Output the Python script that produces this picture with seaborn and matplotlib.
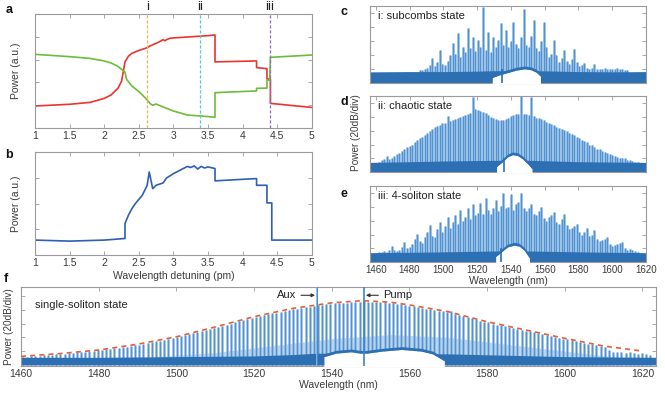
import numpy as np
import matplotlib
matplotlib.use('Agg')
import matplotlib.pyplot as plt
import seaborn as sns

sns.set_style('ticks')
plt.rcParams['font.family'] = ['Liberation Sans', 'DejaVu Sans']

# ---- a: transmitted power of the two modes vs detuning (pm)
a_red_x = [1.0, 1.5, 1.8, 2.0, 2.1, 2.2, 2.25, 2.28, 2.3, 2.35, 2.4, 2.5, 2.6, 2.7, 2.8, 2.85, 2.88,
           2.9, 2.95, 3.0, 3.5, 3.6, 3.6, 4.2, 4.2, 4.35, 4.35, 4.4, 4.4, 5.0]
a_red_y = [0.193, 0.208, 0.225, 0.26, 0.29, 0.35, 0.41, 0.51, 0.58, 0.63, 0.655, 0.68, 0.70, 0.73,
           0.757, 0.775, 0.765, 0.775, 0.787, 0.79, 0.81, 0.816, 0.58, 0.588, 0.53, 0.52, 0.43, 0.43,
           0.216, 0.18]
a_green_x = [1.0, 1.5, 1.8, 2.0, 2.1, 2.2, 2.3, 2.32, 2.4, 2.5, 2.6, 2.67, 2.7, 2.75, 2.85, 3.0, 3.2,
             3.5, 3.6, 3.6, 4.2, 4.2, 4.35, 4.35, 4.39, 4.4, 5.0]
a_green_y = [0.646, 0.626, 0.61, 0.588, 0.57, 0.54, 0.49, 0.43, 0.368, 0.32, 0.26, 0.21, 0.20, 0.21,
             0.185, 0.149, 0.114, 0.10, 0.094, 0.31, 0.325, 0.348, 0.35, 0.42, 0.42, 0.62, 0.64]
state_pos = [2.62, 3.38, 4.39]
state_names = ['i', 'ii', 'iii']
state_colors = ['#f2b25c', '#5cc8b8', '#8a6cc4']

# ---- b: comb power vs detuning
b_x = [1.0, 1.5, 2.0, 2.2, 2.3, 2.3, 2.35, 2.4, 2.45, 2.55, 2.62, 2.65, 2.7, 2.75, 2.85, 2.9, 3.0,
       3.1, 3.2, 3.25, 3.3, 3.35, 3.4, 3.45, 3.5, 3.6, 3.6, 4.0, 4.2, 4.2, 4.35, 4.35, 4.42, 4.42, 5.0]
b_y = [0.145, 0.135, 0.145, 0.155, 0.161, 0.306, 0.387, 0.45, 0.50, 0.58, 0.677, 0.806, 0.645, 0.677,
       0.70, 0.748, 0.79, 0.825, 0.86, 0.85, 0.865, 0.835, 0.86, 0.845, 0.855, 0.84, 0.72, 0.735,
       0.742, 0.677, 0.677, 0.506, 0.506, 0.145, 0.145]
detune_ticks = [1, 1.5, 2, 2.5, 3, 3.5, 4, 4.5, 5]
detune_labels = ['1', '1.5', '2', '2.5', '3', '3.5', '4', '4.5', '5']

# ---- c, d, e spectra (power in 20 dB divisions), comb line heights on a grid
wl_ticks = [1460, 1480, 1500, 1520, 1540, 1560, 1580, 1600, 1620]

c_start, c_step = 1486.0, 1.5
c_heights = [0.9, 0.9, 1.0, 1.1, 1.3, 1.76, 1.2, 1.5, 2.36, 1.4, 1.3, 1.6, 2.0, 2.84, 2.1, 3.56, 1.9,
             2.6, 2.2, 3.92, 2.5, 3.27, 2.3, 3.08, 2.6, 5.48, 2.4, 3.68, 2.2, 3.32, 2.6, 3.08, 4.28,
             2.7, 3.8, 2.6, 3.0, 4.4, 2.8, 2.5, 3.3, 5.31, 2.7, 2.6, 3.4, 4.52, 2.5, 2.3, 3.0, 4.4,
             2.6, 1.9, 2.1, 3.08, 2.0, 1.5, 1.8, 2.36, 1.6, 1.4, 1.7, 2.41, 1.5, 1.2, 1.3, 1.44, 1.1,
             1.0, 1.1, 1.35, 1.0, 1.0, 1.0, 1.05, 1.0, 1.0, 1.0, 1.0, 1.1, 1.0, 1.0, 0.95, 0.95]
c_floor_x = [1456.6, 1480, 1500, 1520, 1529, 1557, 1580, 1600, 1620]
c_floor_y = [0.8, 0.82, 0.82, 0.85, 0.88, 0.88, 0.82, 0.8, 0.82]
c_hump_x = [1529, 1533, 1538, 1543, 1548, 1552, 1555, 1557.5]
c_hump_y = [0.5, 0.68, 0.85, 1.02, 1.12, 1.05, 0.88, 0.6]
c_spike = 1534.6

d_start, d_step = 1462.0, 1.5
d_heights = [0.75, 0.85, 0.95, 1.15, 0.95, 1.05, 1.2, 1.3, 1.4, 1.5, 1.65, 1.8, 1.9, 2.0, 2.15, 2.3,
             2.5, 2.55, 2.7, 2.85, 3.0, 3.15, 3.25, 3.35, 3.45, 3.55, 3.6, 4.05, 3.7, 3.8, 3.85, 3.95,
             4.0, 4.05, 4.15, 4.2, 4.3, 5.48, 4.55, 4.5, 4.45, 4.4, 4.3, 4.15, 4.0, 3.9, 3.85, 3.8,
             3.75, 3.8, 3.85, 3.95, 4.1, 4.15, 4.2, 4.25, 5.5, 4.25, 4.2, 4.15, 5.45, 4.05, 3.95, 3.9,
             3.85, 3.75, 3.65, 3.55, 3.5, 3.4, 3.3, 3.2, 3.1, 3.05, 2.95, 2.85, 2.75, 2.7, 2.55, 2.45,
             2.35, 2.25, 2.15, 2.0, 1.95, 1.85, 1.7, 1.65, 1.55, 1.45, 1.4, 1.3, 1.25, 1.15, 1.1, 1.05,
             1.0, 1.0, 0.9, 0.85, 0.8, 0.75, 0.7]
d_floor_x = [1456.6, 1480, 1500, 1530, 1552, 1580, 1620]
d_floor_y = [0.7, 0.75, 0.8, 0.85, 0.85, 0.75, 0.7]
d_hump_x = [1531.5, 1535, 1538, 1541, 1544, 1547, 1550, 1552.5]
d_hump_y = [0.5, 0.85, 1.2, 1.36, 1.3, 1.05, 0.7, 0.35]
d_spike = 1535.9

e_start, e_step = 1462.0, 1.5
e_heights = [0.7, 0.75, 0.8, 0.75, 0.9, 1.14, 0.85, 0.8, 0.9, 1.1, 1.45, 1.0, 1.1, 1.3, 1.7, 2.05,
             1.5, 1.4, 1.8, 2.2, 2.66, 1.9, 1.8, 2.4, 2.9, 2.2, 2.6, 3.26, 2.5, 2.9, 3.4, 2.8, 3.75,
             3.0, 3.3, 3.9, 3.1, 4.23, 3.4, 3.6, 4.3, 3.5, 4.67, 3.8, 3.5, 3.9, 4.5, 3.7, 4.1, 5.03,
             3.9, 4.0, 4.96, 3.8, 4.2, 4.4, 5.0, 3.9, 3.7, 3.9, 4.23, 3.5, 3.4, 3.7, 4.0, 3.2, 3.0,
             3.3, 3.45, 3.62, 2.9, 2.8, 3.1, 3.5, 2.7, 2.4, 2.5, 2.6, 2.78, 2.2, 2.0, 2.2, 2.5, 1.9,
             2.0, 2.3, 1.7, 1.5, 1.6, 1.7, 1.81, 1.3, 1.2, 1.25, 1.3, 1.35, 1.45, 1.0, 0.9, 0.95, 0.9,
             0.8, 0.75]
e_floor_x = [1456.6, 1490, 1530, 1551, 1590, 1620]
e_floor_y = [0.68, 0.72, 0.8, 0.8, 0.72, 0.68]
e_hump_x = [1531, 1535, 1538, 1542, 1545, 1548, 1551]
e_hump_y = [0.5, 0.9, 1.2, 1.33, 1.25, 0.95, 0.4]
e_spike = 1534.0

# ---- f: single soliton spectrum
f_start, f_step = 1460.5, 1.07
f_heights = [0.58, 0.6, 0.62, 0.66, 0.68, 0.7, 0.72, 0.74, 0.78, 0.8,
             0.82, 0.85, 0.88, 0.9, 0.93, 0.96, 0.99, 1.02, 1.05, 1.08,
             1.12, 1.16, 1.2, 1.24, 1.29, 1.33, 1.38, 1.42, 1.47, 1.53,
             1.59, 1.65, 1.71, 1.76, 1.82, 1.88, 1.94, 2.0, 2.08, 2.16,
             2.23, 2.31, 2.38, 2.45, 2.53, 2.6, 2.68, 2.76, 2.84, 2.92,
             3.0, 3.08, 3.16, 3.24, 3.32, 3.4, 3.48, 3.54, 3.6, 3.67,
             3.73, 3.8, 3.86, 3.92, 3.99, 4.05, 4.09, 4.14, 4.18, 4.22,
             4.27, 4.31, 4.35, 4.39, 4.44, 4.46, 4.48, 4.5, 4.52, 4.54,
             4.56, 4.58, 4.6, 4.59, 4.58, 4.56, 4.55, 4.53, 4.51, 4.47,
             4.43, 4.39, 4.34, 4.3, 4.25, 4.19, 4.14, 4.09, 4.03, 3.98,
             3.93, 3.88, 3.83, 3.9, 3.72, 3.62, 3.55, 3.46, 3.38, 3.3,
             3.22, 3.14, 3.1, 3.0, 2.93, 2.87, 2.8, 2.74, 2.7, 2.62,
             2.56, 2.49, 2.43, 2.36, 2.3, 2.23, 2.17, 2.11, 2.04, 1.98,
             1.91, 1.85, 1.79, 1.73, 1.67, 1.61, 1.55, 1.5, 1.43, 1.38,
             1.3, 1.1, 0.95, 0.9, 0.95, 0.85, 0.9, 0.85, 0.8, 0.85,
             0.8, 0.75]
f_env_x = [1460, 1470, 1480, 1490, 1500, 1510, 1520, 1530, 1540, 1548, 1555, 1560, 1570, 1580,
           1590, 1600, 1610, 1620]
f_env_y = [0.62, 0.82, 1.08, 1.5, 2.04, 2.75, 3.5, 4.1, 4.5, 4.66, 4.55, 4.35, 3.86, 3.13, 2.53,
           1.93, 1.37, 1.0]
f_floor_x = [1460, 1480, 1500, 1520, 1530, 1536, 1570, 1585, 1600, 1623.5]
f_floor_y = [0.55, 0.55, 0.6, 0.65, 0.75, 0.85, 0.8, 0.7, 0.6, 0.55]
f_haze_x = [1495, 1510, 1525, 1540, 1555, 1570, 1585, 1600, 1612]
f_haze_y = [0.6, 0.9, 1.4, 1.9, 2.2, 2.0, 1.5, 1.0, 0.6]
f_hump_x = [1538, 1541, 1545, 1547.3, 1549, 1553, 1558, 1563, 1566, 1569]
f_hump_y = [0.7, 0.95, 1.05, 0.95, 0.95, 1.1, 1.22, 1.1, 0.9, 0.4]
aux_nm, pump_nm = 1536.3, 1548.2

DARK = '#2c6fb3'
LIGHT = '#86b5e2'
MID = '#3f84c8'
SPINE = '#9a9a9a'
TXT = '#3a3a3a'

fig = plt.figure(figsize=(6.65, 3.93), dpi=100)


def style_axes(ax, size=7):
    for s in ax.spines.values():
        s.set_color(SPINE)
        s.set_linewidth(0.8)
    ax.tick_params(direction='in', length=3, width=0.6, color=SPINE, labelcolor=TXT,
                   labelsize=size, pad=2, top=True, right=True)


def spectrum(ax, start, step, heights, floor_x, floor_y, hump_x, hump_y, spike, lw=1.9):
    pos = start + step * np.arange(len(heights))
    ax.vlines(pos, 0, heights, colors=LIGHT, lw=lw, zorder=1)
    ax.vlines(pos, 0, heights, colors=MID, lw=0.5, zorder=1.5)
    ax.fill_between(floor_x, 0, floor_y, color=DARK, lw=0, zorder=2)
    hy = np.array(hump_y)
    ax.fill_between(hump_x, -1, hy - 0.1, color='white', lw=0, zorder=3)
    ax.fill_between(hump_x, hy - 0.1, hy + 0.1, color=DARK, lw=0, zorder=4)
    if spike is not None:
        ax.vlines([spike], 0, 1.0, colors=DARK, lw=1.2, zorder=4)


# panel a
ax_a = fig.add_axes([0.0526, 0.6743, 0.4165, 0.2901])
sns.lineplot(x=a_red_x, y=a_red_y, ax=ax_a, color='#e8352f', lw=1.2, sort=False, estimator=None)
sns.lineplot(x=a_green_x, y=a_green_y, ax=ax_a, color='#6cbd3a', lw=1.2, sort=False, estimator=None)
for p, n, c in zip(state_pos, state_names, state_colors):
    ax_a.axvline(p, color=c, lw=0.9, ls=(0, (2.5, 1.5)))
    ax_a.text(p, 1.01, n, transform=ax_a.get_xaxis_transform(), ha='center', va='bottom',
              fontsize=9.5, color='#222222')
ax_a.set_xlim(1, 5)
ax_a.set_ylim(0, 1)
ax_a.set_xticks(detune_ticks)
ax_a.set_xticklabels(detune_labels)
ax_a.set_yticks([0.2, 0.4, 0.6, 0.8])
ax_a.set_yticklabels([])
ax_a.set_ylabel('Power (a.u.)', fontsize=7.5, color=TXT, labelpad=8)
style_axes(ax_a, 7.5)

# panel b
ax_b = fig.add_axes([0.0526, 0.3511, 0.4165, 0.2621])
sns.lineplot(x=b_x, y=b_y, ax=ax_b, color='#2e5fb4', lw=1.2, sort=False, estimator=None)
ax_b.set_xlim(1, 5)
ax_b.set_ylim(0, 1)
ax_b.set_xticks(detune_ticks)
ax_b.set_xticklabels(detune_labels)
ax_b.set_yticks([0.25, 0.5, 0.75])
ax_b.set_yticklabels([])
ax_b.set_ylabel('Power (a.u.)', fontsize=7.5, color=TXT, labelpad=8)
ax_b.set_xlabel('Wavelength detuning (pm)', fontsize=7.5, color=TXT, labelpad=2)
style_axes(ax_b, 7.5)

# panels c, d, e
spec_rects = [[0.5564, 0.7888, 0.4150, 0.1959], [0.5564, 0.5623, 0.4150, 0.1934],
              [0.5564, 0.3333, 0.4150, 0.1934]]
spec_data = [
    (c_start, c_step, c_heights, c_floor_x, c_floor_y, c_hump_x, c_hump_y, c_spike, 'i: subcombs state'),
    (d_start, d_step, d_heights, d_floor_x, d_floor_y, d_hump_x, d_hump_y, d_spike, 'ii: chaotic state'),
    (e_start, e_step, e_heights, e_floor_x, e_floor_y, e_hump_x, e_hump_y, e_spike, 'iii: 4-soliton state'),
]
for k, (rect, dat) in enumerate(zip(spec_rects, spec_data)):
    ax = fig.add_axes(rect)
    spectrum(ax, *dat[:8])
    ax.text(0.028, 0.93, dat[8], transform=ax.transAxes, ha='left', va='top', fontsize=8,
            color='#222222', zorder=6)
    ax.set_xlim(1456.6, 1620)
    ax.set_ylim(0, 5.53)
    ax.set_xticks(wl_ticks)
    ax.set_yticks([1, 2, 3, 4, 5])
    ax.set_yticklabels([])
    if k < 2:
        ax.set_xticklabels([])
    else:
        ax.set_xlabel('Wavelength (nm)', fontsize=7.5, color=TXT, labelpad=1)
    style_axes(ax)

fig.text(0.535, 0.662, 'Power (20dB/div)', rotation=90, ha='center', va='center', fontsize=7.2,
         color=TXT)

# panel f
ax_f = fig.add_axes([0.0316, 0.0687, 0.9549, 0.2010])
ax_f.fill_between(f_haze_x, 0, f_haze_y, color='#bcd5ee', lw=0, zorder=0.5)
spectrum(ax_f, f_start, f_step, f_heights, f_floor_x, f_floor_y, f_hump_x, f_hump_y, None, lw=1.8)
ax_f.vlines([aux_nm], 0, 6, colors=LIGHT, lw=1.3, zorder=5)
ax_f.vlines([aux_nm], 0, 6, colors=MID, lw=0.6, zorder=5)
ax_f.vlines([pump_nm], -1, 6, colors=MID, lw=1.2, zorder=5)
sns.lineplot(x=f_env_x, y=f_env_y, ax=ax_f, color='#e2603a', lw=1.2, sort=False, estimator=None,
             zorder=6)
ax_f.lines[-1].set_dashes([3, 2.5])
ax_f.annotate('Aux', xy=(aux_nm - 0.6, 5.05), xytext=(aux_nm - 5.4, 5.05), fontsize=8,
              color='#222222', ha='right', va='center', zorder=7,
              arrowprops=dict(arrowstyle='-|>', color='#333333', lw=0.8, mutation_scale=5,
                              shrinkA=1, shrinkB=0))
ax_f.annotate('Pump', xy=(pump_nm + 0.6, 5.05), xytext=(pump_nm + 5.0, 5.05), fontsize=8,
              color='#222222', ha='left', va='center', zorder=7,
              arrowprops=dict(arrowstyle='-|>', color='#333333', lw=0.8, mutation_scale=5,
                              shrinkA=1, shrinkB=0))
ax_f.text(0.022, 0.83, 'single-soliton state', transform=ax_f.transAxes, ha='left', va='top',
          fontsize=8, color='#222222', zorder=7)
ax_f.set_xlim(1460, 1623.5)
ax_f.set_ylim(-0.08, 5.65)
ax_f.set_xticks(wl_ticks)
ax_f.set_yticks([1, 2, 3, 4, 5])
ax_f.set_yticklabels([])
ax_f.set_ylabel('Power (20dB/div)', fontsize=7.2, color=TXT, labelpad=3)
ax_f.set_xlabel('Wavelength (nm)', fontsize=7.5, color=TXT, labelpad=1)
style_axes(ax_f, 7.5)

# panel letters
for lab, x, y in [('a', 0.008, 0.99), ('b', 0.008, 0.622), ('c', 0.512, 0.985), ('d', 0.512, 0.755),
                  ('e', 0.512, 0.522), ('f', 0.005, 0.305)]:
    fig.text(x, y, lab, fontsize=9, fontweight='bold', ha='left', va='top', color='#111111')

fig.savefig('out.png', dpi=100)
